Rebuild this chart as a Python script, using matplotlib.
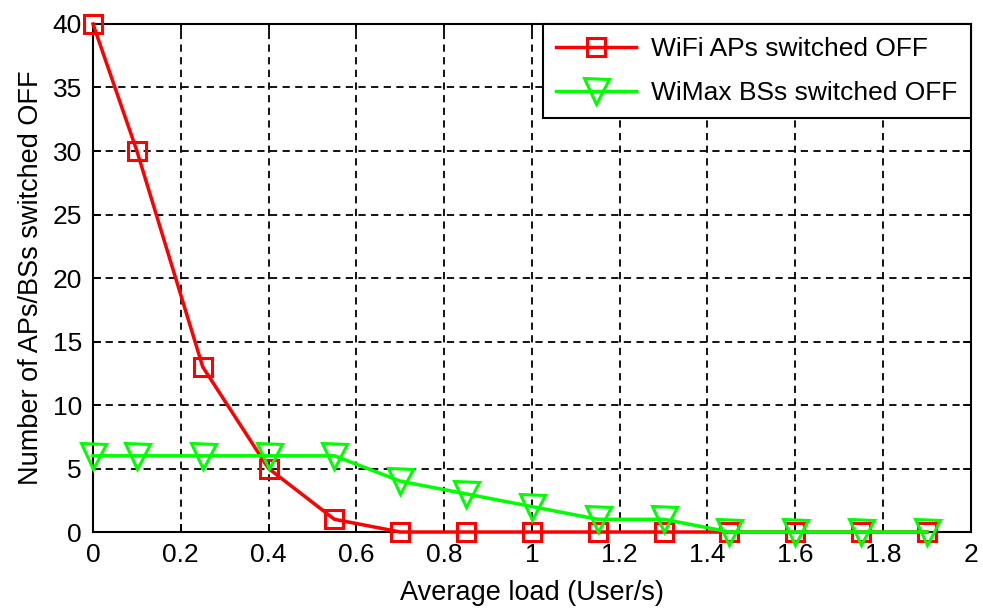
import matplotlib.pyplot as plt
import numpy as np

# ----- DATA -----
load = [0, 0.1, 0.25, 0.4, 0.55, 0.7, 0.85, 1.0, 1.15, 1.3, 1.45, 1.6, 1.75, 1.9]
wifi_off = [40, 30, 13, 5, 1, 0, 0, 0, 0, 0, 0, 0, 0, 0]
wimax_off = [6, 6, 6, 6, 6, 4, 3, 2, 1, 1, 0, 0, 0, 0]
x_ticks = [0, 0.2, 0.4, 0.6, 0.8, 1, 1.2, 1.4, 1.6, 1.8, 2]
y_ticks = [0, 5, 10, 15, 20, 25, 30, 35, 40]

plt.rcParams['font.family'] = ['Liberation Sans', 'DejaVu Sans']

fig = plt.figure(figsize=(9.83, 6.09), dpi=100)
ax = fig.add_axes([0.0946, 0.1264, 0.893, 0.8342])

ax.plot(load, wifi_off, color='red', lw=2.5, marker='s', markersize=13,
        markerfacecolor='none', markeredgewidth=2.2, clip_on=False, zorder=3,
        label='WiFi APs switched OFF')
ax.plot(load, wimax_off, color='#00ff00', lw=2.5, marker='v', markersize=18,
        markerfacecolor='none', markeredgewidth=2.2, clip_on=False, zorder=4,
        label='WiMax BSs switched OFF')

ax.set_xlim(0, 2)
ax.set_ylim(0, 40)
ax.set_xticks(x_ticks)
ax.set_xticklabels([f"{t:g}" for t in x_ticks])
ax.set_yticks(y_ticks)

ax.grid(True, color='black', linestyle=(0, (4, 3)), lw=1.3)
ax.tick_params(direction='in', top=True, right=True, length=6, width=1.3,
               labelsize=19, pad=8)
for s in ax.spines.values():
    s.set_linewidth(1.5)

ax.set_xlabel("Average load (User/s)", fontsize=19.5, labelpad=9)
ax.set_ylabel("Number of APs/BSs switched OFF", fontsize=19.5, labelpad=6)

leg = ax.legend(loc='upper right', borderaxespad=0, fontsize=19, fancybox=False,
                edgecolor='black', framealpha=1, handlelength=3, borderpad=0.5,
                labelspacing=0.75, handletextpad=0.6)
leg.get_frame().set_linewidth(1.5)

plt.savefig("out.png", dpi=100)
